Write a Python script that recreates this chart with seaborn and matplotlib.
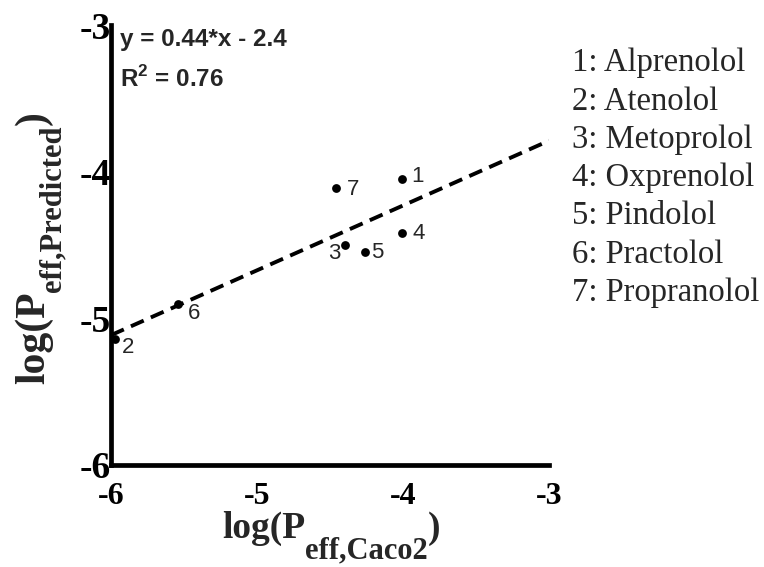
import numpy as np
import pandas as pd
import matplotlib
matplotlib.use("Agg")
import matplotlib.pyplot as plt
from matplotlib.transforms import IdentityTransform
import seaborn as sns

# ---- data ----
drug_ids = ["1", "2", "3", "4", "5", "6", "7"]
drug_names = ["Alprenolol", "Atenolol", "Metoprolol", "Oxprenolol",
              "Pindolol", "Practolol", "Propranolol"]
log_p_caco2 = [-4.01, -5.97, -4.40, -4.01, -4.26, -5.54, -4.46]
log_p_pred = [-4.05, -5.14, -4.50, -4.42, -4.55, -4.90, -4.11]
x_ticks = [-6, -5, -4, -3]
y_ticks = [-6, -5, -4, -3]
eq_text = "y = 0.44*x - 2.4"
r2_text = r"R$^{\mathsf{2}}$ = 0.76"
xlabel_parts = ("log(P", "eff,Caco2", ")")
ylabel_parts = ("log(P", "eff,Predicted", ")")

df = pd.DataFrame({"id": drug_ids, "x": log_p_caco2, "y": log_p_pred})

sns.set_theme(style="white")
plt.rcParams["font.family"] = ["Liberation Serif", "DejaVu Sans"]
plt.rcParams["mathtext.fontset"] = "custom"
plt.rcParams["mathtext.rm"] = "Liberation Sans:bold"
plt.rcParams["mathtext.sf"] = "Liberation Sans:bold"

W, H = 764, 567
fig = plt.figure(figsize=(W / 100, H / 100), dpi=100)
ax = fig.add_axes([0.1453, 0.1799, 0.5733, 0.776])
ax.set_xlim(-6, -3)
ax.set_ylim(-6, -3)

sns.regplot(data=df, x="x", y="y", ax=ax, ci=None, truncate=False,
            scatter=False,
            line_kws=dict(color="black", lw=2.8, ls=(0, (3.6, 2.0))))
sns.scatterplot(data=df, x="x", y="y", ax=ax, color="black", s=40,
                edgecolor="black", linewidth=0, zorder=5)

# point labels (offsets in points)
offsets = {"1": (7, 2, "left"), "2": (5, -6, "left"), "3": (-3, -6, "right"),
           "4": (8, 0, "left"), "5": (4, 0, "left"), "6": (7, -7, "left"),
           "7": (8, -1, "left")}
for _, r in df.iterrows():
    dx, dy, ha = offsets[r["id"]]
    ax.annotate(r["id"], (r["x"], r["y"]), xytext=(dx, dy),
                textcoords="offset points", ha=ha, va="center",
                fontsize=16, family="Liberation Sans")

ax.text(-5.94, -3.10, eq_text, fontsize=17.5, fontweight="bold",
        family="Liberation Sans", ha="left", va="center")
ax.text(-5.94, -3.37, r2_text, fontsize=17.5, fontweight="bold",
        family="Liberation Sans", ha="left", va="center")

for s in ["top", "right"]:
    ax.spines[s].set_visible(False)
for s in ["left", "bottom"]:
    ax.spines[s].set_linewidth(3.4)
    ax.spines[s].set_color("black")

ax.set_xticks(x_ticks)
ax.set_yticks(y_ticks)
ax.set_xticklabels([str(t) for t in x_ticks], fontsize=23, fontweight="bold")
ax.set_yticklabels([str(t) for t in y_ticks], fontsize=27, fontweight="bold")
ax.tick_params(axis="x", direction="in", length=3, width=3, pad=12, colors="black")
ax.tick_params(axis="y", direction="in", length=3, width=3, pad=0, colors="black")
ax.set_xlabel("")
ax.set_ylabel("")

# ---- axis labels built from pieces (large, deeply dropped subscript) ----
fig.canvas.draw()
renderer = fig.canvas.get_renderer()
ident = IdentityTransform()


def label_horizontal(parts, center_x, base_y, main_fs, sub_fs, drop):
    kw = dict(family="Liberation Serif", fontweight="bold",
              transform=ident, va="baseline", ha="left")
    t1 = fig.text(0, base_y, parts[0], fontsize=main_fs, **kw)
    t2 = fig.text(0, base_y - drop, parts[1], fontsize=sub_fs, **kw)
    t3 = fig.text(0, base_y, parts[2], fontsize=main_fs, **kw)
    w = [t.get_window_extent(renderer).width for t in (t1, t2, t3)]
    x = center_x - sum(w) / 2
    for t, wi in zip((t1, t2, t3), w):
        t.set_x(x)
        x += wi


def label_vertical(parts, center_y, base_x, main_fs, sub_fs, drop):
    kw = dict(family="Liberation Serif", fontweight="bold", transform=ident,
              va="baseline", ha="left", rotation=90, rotation_mode="anchor")
    t1 = fig.text(base_x, 0, parts[0], fontsize=main_fs, **kw)
    t2 = fig.text(base_x + drop, 0, parts[1], fontsize=sub_fs, **kw)
    t3 = fig.text(base_x, 0, parts[2], fontsize=main_fs, **kw)
    h = [t.get_window_extent(renderer).height for t in (t1, t2, t3)]
    y = center_y - sum(h) / 2
    for t, hi in zip((t1, t2, t3), h):
        t.set_y(y)
        y += hi


# pixel positions measured from bottom-left
label_horizontal(xlabel_parts, 331, H - 538, 27, 22, 20)
label_vertical(ylabel_parts, H - 248, 44, 30, 22, 16)

# legend-like list at the right
for i, (did, name) in enumerate(zip(drug_ids, drug_names)):
    fig.text(572 / W, 1 - (63 + i * 38.3) / H, f"{did}: {name}",
             fontsize=23.5, family="Liberation Serif", ha="left", va="center")

fig.savefig("out.png", dpi=100)
